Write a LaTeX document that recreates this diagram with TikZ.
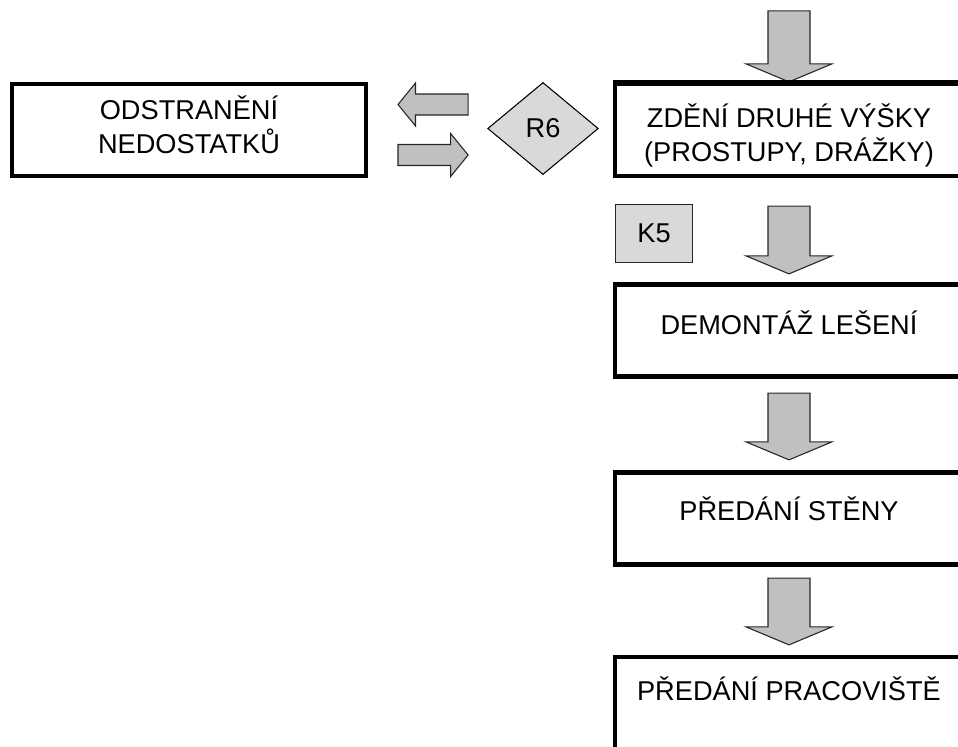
\documentclass[tikz,border=0pt]{standalone}
\usepackage{fontspec}
\setmainfont{Liberation Sans}
\usepackage{tikz}
\usetikzlibrary{calc,shapes.geometric}

\definecolor{arrowgray}{RGB}{192,192,192}
\definecolor{markgray}{RGB}{217,217,217}
\newcommand{\stagefont}{\fontsize{20.4}{25.5}\selectfont}

\tikzset{
  stagebox/.style={draw=black,line width=3.2pt,minimum width=261pt,minimum height=69pt,inner sep=0pt},
  stagetext/.style={align=center,inner sep=0pt,font=\stagefont},
  blockarr/.style={draw=black!85,line width=0.8pt,fill=arrowgray,line join=miter},
  checkbox/.style={draw=black!85,line width=1pt,fill=markgray,minimum width=57.5pt,minimum height=43.3pt,inner sep=0pt,font=\stagefont},
  riskdiamond/.style={diamond,draw=black,line width=0.8pt,fill=markgray,minimum width=83pt,minimum height=69pt,inner sep=0pt,font=\stagefont}
}

% block arrow pointing down: #1 top of shaft, #2 tip
\newcommand{\downblock}[2]{%
  \draw[blockarr] ($(#1)+(-21,0)$) -- ($(#1)+(21,0)$) -- ($(#2)+(21,-18)$)
    -- ($(#2)+(43,-18)$) -- (#2) -- ($(#2)+(-43,-18)$) -- ($(#2)+(-21,-18)$) -- cycle;}
% block arrow sideways: #1 tail, #2 tip, #3 = 1 right, -1 left
\newcommand{\sideblock}[3]{%
  \draw[blockarr] ($(#1)+(0,-10.5)$) -- ($(#2)+({#3*(-17.5)},-10.5)$) -- ($(#2)+({#3*(-17.5)},-21.5)$)
    -- (#2) -- ($(#2)+({#3*(-17.5)},21.5)$) -- ($(#2)+({#3*(-17.5)},10.5)$) -- ($(#1)+(0,10.5)$) -- cycle;}

\begin{document}
\begin{tikzpicture}[x=0.75pt,y=-0.75pt]
  \useasboundingbox (0,0) rectangle (958,747);
  \clip (0,0) rectangle (958,747);

  % Stages
  \node[stagebox,minimum width=265.3pt] (fix) at (189,130) {};
  \node[stagebox] (wall) at (789,130) {};
  \node[stagebox] (scaf) at (789,330.5) {};
  \node[stagebox] (hand) at (789,518.5) {};
  \node[stagebox] (site) at (789,703) {};

  \node[stagetext] (fixt) at (189,125) {ODSTRANĚNÍ\\NEDOSTATKŮ};
  \node[stagetext] (wallt) at (789,135) {ZDĚNÍ DRUHÉ VÝŠKY\\(PROSTUPY, DRÁŽKY)};
  \node[stagetext] (scaft) at (789,323) {DEMONTÁŽ LEŠENÍ};
  \node[stagetext] (handt) at (789,509) {PŘEDÁNÍ STĚNY};
  \node[stagetext] (sitet) at (789,689) {PŘEDÁNÍ PRACOVIŠTĚ};

  % Check and risk marks
  \node[riskdiamond] (r6) at (543,128.5) {R6};
  \node[checkbox] (k5) at (654,233.5) {K5};

  % Flow arrows
  \coordinate (in) at ($(wall.north)+(0,-71)$);
  \coordinate (s1) at ($(wall.south)+(0,28)$);
  \coordinate (t1) at ($(scaf.north)+(0,-8.5)$);
  \coordinate (s2) at ($(scaf.south)+(0,14.5)$);
  \coordinate (t2) at ($(hand.north)+(0,-10.5)$);
  \coordinate (s3) at ($(hand.south)+(0,11.5)$);
  \coordinate (t3) at ($(site.north)+(0,-10)$);
  \downblock{in}{wall.north}
  \downblock{s1}{t1}
  \downblock{s2}{t2}
  \downblock{s3}{t3}
  \draw[stagebox] (wall.north west) -- (wall.north east);

  % Back and forth between R6 and the fix
  \coordinate (fb1) at ($(r6.west)+(-19,-24)$);
  \coordinate (fb2) at ($(fix.east)+(30,-25.5)$);
  \coordinate (bk1) at ($(fix.east)+(30,25)$);
  \coordinate (bk2) at ($(r6.west)+(-19,26.5)$);
  \sideblock{fb1}{fb2}{-1}
  \sideblock{bk1}{bk2}{1}
\end{tikzpicture}
\end{document}
